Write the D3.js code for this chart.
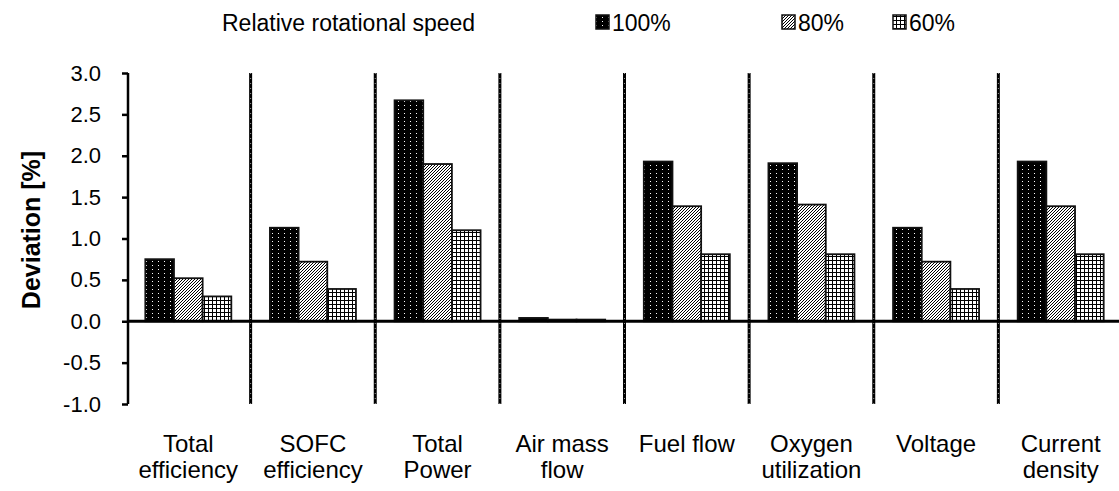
<!DOCTYPE html>
<html><head><meta charset="utf-8">
<script src="https://cdn.jsdelivr.net/npm/d3@7"></script>
<style>body{margin:0;background:#fff}svg{display:block;font-family:"Liberation Sans",Arial,sans-serif}</style>
</head><body><svg id="c" width="1119" height="491"></svg>
<script>
const categories = [["Total","efficiency"],["SOFC","efficiency"],["Total","Power"],["Air mass","flow"],["Fuel flow"],["Oxygen","utilization"],["Voltage"],["Current","density"]];
const seriesNames = ["100%","80%","60%"];
const s100 = [0.75, 1.13, 2.67, 0.04, 1.93, 1.91, 1.13, 1.93];
const s80  = [0.52, 0.72, 1.90, 0.02, 1.39, 1.41, 0.72, 1.39];
const s60  = [0.30, 0.39, 1.10, 0.02, 0.81, 0.81, 0.39, 0.81];
const yTicks = [-1.0,-0.5,0.0,0.5,1.0,1.5,2.0,2.5,3.0];
const legendTitle = "Relative rotational speed";
const yTitle = "Deviation [%]";

const svg = d3.select("#c");
const defs = svg.append("defs");
const p1 = defs.append("pattern").attr("id","pDots").attr("patternUnits","userSpaceOnUse").attr("width",6).attr("height",4);
p1.append("rect").attr("width",6).attr("height",4).attr("fill","#000");
p1.append("rect").attr("x",2).attr("y",1).attr("width",1).attr("height",1).attr("fill","#fff");
const p2 = defs.append("pattern").attr("id","pHatch").attr("patternUnits","userSpaceOnUse").attr("width",3).attr("height",3);
p2.append("rect").attr("width",3).attr("height",3).attr("fill","#fff");
p2.append("path").attr("d","M-1,1 L1,-1 M0,3 L3,0 M2,4 L4,2").attr("stroke","#000").attr("stroke-width",1);
const p3 = defs.append("pattern").attr("id","pGrid").attr("patternUnits","userSpaceOnUse").attr("width",4).attr("height",4);
p3.append("rect").attr("width",4).attr("height",4).attr("fill","#fff");
p3.append("path").attr("d","M0,0.5 H4 M0.5,0 V4").attr("stroke","#000").attr("stroke-width",1);
const fills = ["url(#pDots)","url(#pHatch)","url(#pGrid)"];

const x = d3.scaleBand().domain(d3.range(categories.length)).range([126,1123]).paddingInner(0).paddingOuter(0);
const y = d3.scaleLinear().domain([-1,3]).range([404,73]);
const xs = d3.scaleBand().domain(d3.range(3)).range([-43,43]).padding(0);

const data = [s100,s80,s60];

categories.forEach((c,i)=>{
  const cx = x(i)+x.bandwidth()/2;
  data.forEach((s,j)=>{
    const v = s[i];
    svg.append("rect")
      .attr("x",cx+xs(j)).attr("width",xs.bandwidth())
      .attr("y",y(Math.max(0,v))).attr("height",Math.abs(y(v)-y(0)))
      .attr("fill",fills[j]).attr("stroke","#111").attr("stroke-width",1.8);
  });
});

d3.range(1,categories.length).forEach(i=>{
  const xx = x(i);
  svg.append("line").attr("x1",xx).attr("x2",xx).attr("y1",y(3)).attr("y2",y(-1)).attr("stroke","#000").attr("stroke-width",3);
  svg.append("line").attr("x1",xx).attr("x2",xx).attr("y1",y(3)).attr("y2",y(-1)).attr("stroke","#fff").attr("stroke-width",0.6).attr("stroke-dasharray","1,4");
});

svg.append("line").attr("x1",127).attr("x2",1119).attr("y1",y(0)).attr("y2",y(0)).attr("stroke","#000").attr("stroke-width",3);

const yAxis = d3.axisLeft(y).tickValues(yTicks).tickFormat(d3.format(".1f")).tickSize(6).tickPadding(21);
const ga = svg.append("g").attr("transform","translate(128,0)").call(yAxis);
ga.attr("font-size",null).attr("font-family",null);
ga.select(".domain").attr("stroke","#000").attr("stroke-width",2.5).attr("d","M0,"+y(3)+"V"+y(-1));
ga.selectAll(".tick line").attr("stroke","#000").attr("stroke-width",2.5);
ga.selectAll(".tick text").style("font-size","22px").attr("fill","#000").text(d=>d3.format(".1f")(d).replace("\u2212","-"));

svg.append("text").attr("transform","translate(40,230) rotate(-90)")
  .attr("text-anchor","middle").attr("font-weight","bold").style("font-size","25px").text(yTitle);

categories.forEach((c,i)=>{
  const t = svg.append("text").attr("text-anchor","middle").style("font-size","24px").attr("fill","#000");
  c.forEach((line,k)=>{
    t.append("tspan").attr("x",x(i)+x.bandwidth()/2).attr("y",452+k*26).text(line);
  });
});

svg.append("text").attr("x",222).attr("y",31).style("font-size","23px").text(legendTitle);
const legX = [596,782,893];
seriesNames.forEach((n,j)=>{
  svg.append("rect").attr("x",legX[j]).attr("y",15).attr("width",13).attr("height",14).attr("fill",fills[j]).attr("stroke","#111").attr("stroke-width",1.5);
  svg.append("text").attr("x",legX[j]+16).attr("y",31).style("font-size","23px").text(n);
});
</script></body></html>
